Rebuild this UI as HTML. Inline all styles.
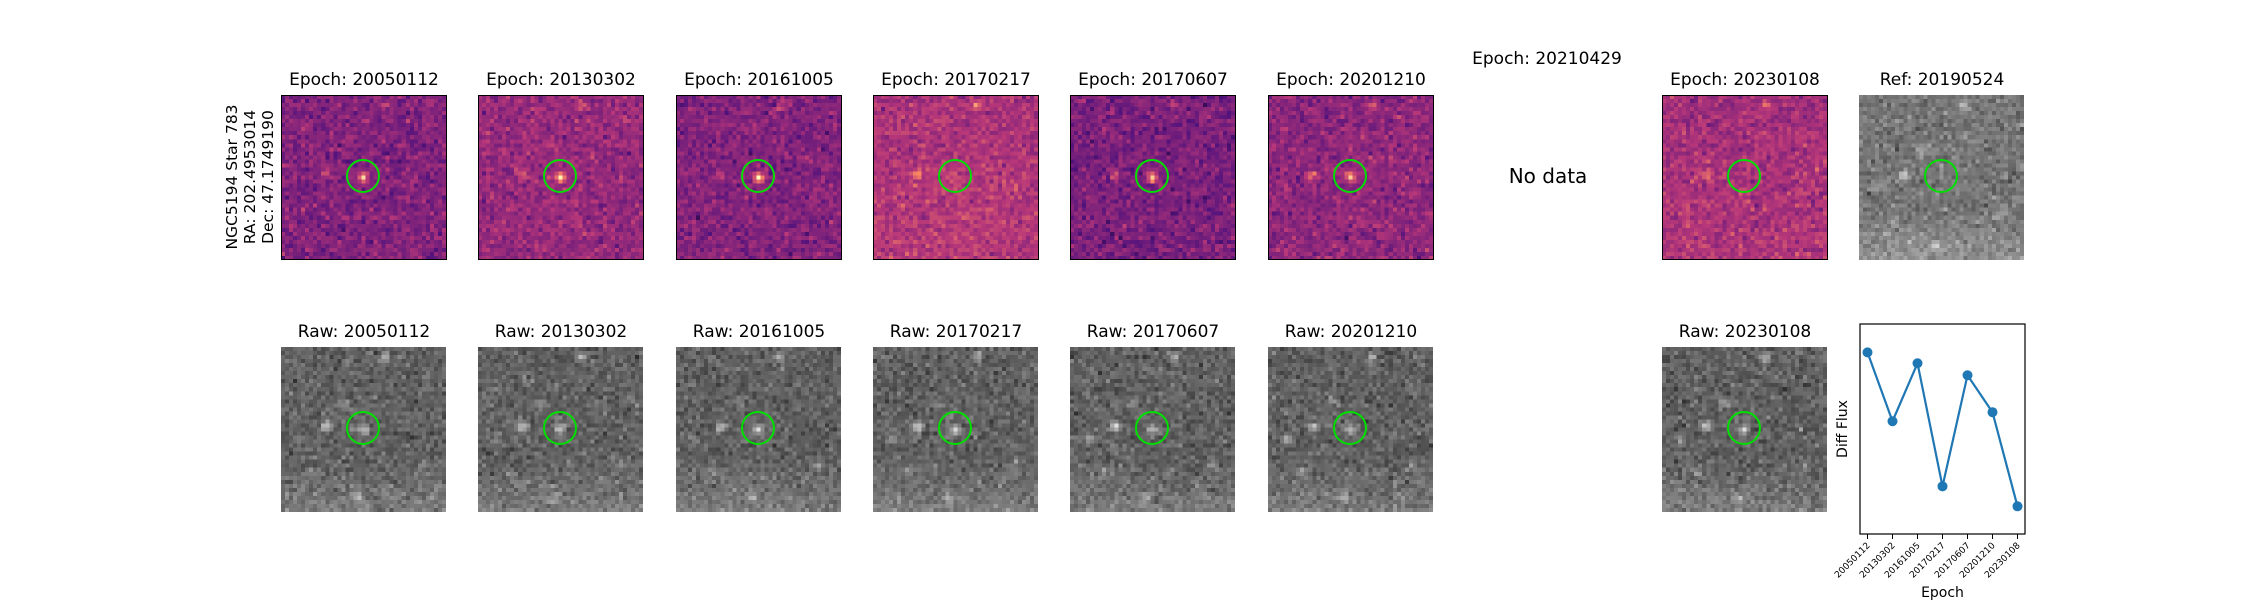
<!DOCTYPE html>
<html><head><meta charset="utf-8">
<style>
body{margin:0;width:2250px;height:600px;background:#fff;position:relative;overflow:hidden;font-family:"DejaVu Sans","Liberation Sans",sans-serif;}
.t{position:absolute;font-size:17px;color:#000;white-space:nowrap;transform:translate(-50%,-50%);}
canvas{position:absolute;image-rendering:pixelated;}
.circ{position:absolute;border:2px solid #00e000;border-radius:50%;box-sizing:border-box;}
.frame{position:absolute;border:1.5px solid #000;box-sizing:border-box;}
</style></head>
<body>
<div class="t" style="left:250px;top:177px;transform:translate(-50%,-50%) rotate(-90deg);font-size:15.5px;line-height:18px;text-align:center">NGC5194 Star 783<br>RA: 202.4953014<br>Dec: 47.1749190</div>
<div class="t" style="left:1547px;top:59px">Epoch: 20210429</div>
<div class="t" style="left:1548px;top:176px;font-size:20px">No data</div>
<svg id="lc" width="2250" height="600" style="position:absolute;left:0;top:0"></svg>
<script>
const epochs=["20050112","20130302","20161005","20170217","20170607","20201210","20230108"];
const flux=[86.5,53.7,81.3,22.7,75.6,58.0,13.2];
const panelEpochs=["20050112","20130302","20161005","20170217","20170607","20201210",null,"20230108"];
const diffLevel=[0.37,0.42,0.37,0.47,0.35,0.40,null,0.45];
const starAmp=[0.6,0.5,0.6,0.12,0.6,0.45,null,0.0];
const refEpoch="20190524";

function rng(seed){let s=seed>>>0;return()=>{s=(s*1664525+1013904223)>>>0;return s/4294967296;};}
function gauss(r){return Math.sqrt(-2*Math.log(r()+1e-9))*Math.cos(2*Math.PI*r());}
const magma=[[0,0,0,4],[0.25,81,18,124],[0.5,183,55,121],[0.75,252,137,97],[1,252,253,191]];
function cmap(t){t=Math.max(0,Math.min(1,t));for(let i=1;i<magma.length;i++){if(t<=magma[i][0]){const a=magma[i-1],b=magma[i];const f=(t-a[0])/(b[0]-a[0]);return [a[1]+f*(b[1]-a[1]),a[2]+f*(b[2]-a[2]),a[3]+f*(b[3]-a[3])];}}return [252,253,191];}
const N=41;
const srcs=[[0.26,0.47,0.5],[0.62,0.05,0.4],[0.37,0.33,0.3],[0.1,0.55,0.25],[0.45,0.9,0.3],[0.85,0.7,0.25],[0.2,0.75,0.2]];
function drawPanel(x,y,kind,idx,name){
  const c=document.createElement('canvas');c.width=N;c.height=N;
  c.style.left=x+'px';c.style.top=y+'px';c.style.width='165px';c.style.height='165px';
  
  
  const ctx=c.getContext('2d');const im=ctx.createImageData(N,N);const r=rng(idx*977+13);
  for(let j=0;j<N;j++)for(let i=0;i<N;i++){
    let v;
    if(kind==='diff'){
      v=diffLevel[idx]+0.055*gauss(r);
      const d=Math.hypot(i-20,j-20);v+=starAmp[idx]*Math.exp(-d*d/1.5);
      if(idx===3||idx===7){v+=0.04*(j/N);}
      srcs.slice(0,2).forEach(s=>{const dd=Math.hypot(i-s[0]*N,j-s[1]*N);v+=s[2]*0.6*Math.exp(-dd*dd/1.2)*(idx%2?1:0.8);});
      const col=cmap(v);const k=(j*N+i)*4;im.data[k]=col[0];im.data[k+1]=col[1];im.data[k+2]=col[2];im.data[k+3]=255;
    }else{
      v=0.38+0.06*gauss(r)+0.12*Math.max(0,(j-28)/13);
      const d=Math.hypot(i-20,j-20);v+=(kind==='ref'?0.1:0.4)*Math.exp(-d*d/1.5);
      srcs.forEach(s=>{const dd=Math.hypot(i-s[0]*N,j-s[1]*N);v+=s[2]*0.8*Math.exp(-dd*dd/1.5);});
      if(kind==='ref')v+=0.08;
      const g=Math.max(0,Math.min(255,v*255));const k=(j*N+i)*4;im.data[k]=g;im.data[k+1]=g;im.data[k+2]=g;im.data[k+3]=255;
    }
  }
  ctx.putImageData(im,0,0);document.body.appendChild(c);
  const ci=document.createElement('div');ci.className='circ';
  ci.style.left=(x+82-17)+'px';ci.style.top=(y+81-17)+'px';ci.style.width='34px';ci.style.height='34px';
  
  
  document.body.appendChild(ci);
  if(kind==='diff'){const f=document.createElement('div');f.className='frame';f.style.left=x+'px';f.style.top=y+'px';f.style.width='166px';f.style.height='165px';
    
    
    document.body.appendChild(f);}
}
function title(x,y,txt,name){const t=document.createElement('div');t.className='t';t.style.left=x+'px';t.style.top=y+'px';t.textContent=txt;
  
  
  document.body.appendChild(t);}
panelEpochs.forEach((e,i)=>{
  if(!e)return;
  const x=Math.round(281+i*197.3);
  title(x+83,80,'Epoch: '+e,'diff-title-'+e);
  drawPanel(x,95,'diff',i,'diff-image-'+e);
  title(x+83,332,'Raw: '+e,'raw-title-'+e);
  drawPanel(x,347,'raw',i+20,'raw-image-'+e);
});
const rx=Math.round(281+8*197.3);
title(rx+83,80,'Ref: '+refEpoch,'ref-title');
drawPanel(rx,95,'ref',40,'ref-image');

const svg=document.getElementById('lc');const NS='http://www.w3.org/2000/svg';
const ax={l:1860,r:2025,t:324,b:534};const yMin=0,yMax=100;
const xs=i=>ax.l+(i+0.3)/(epochs.length-1+0.6)*(ax.r-ax.l);
const ys=v=>ax.b-(v-yMin)/(yMax-yMin)*(ax.b-ax.t);
function el(tag,attrs,name){const e=document.createElementNS(NS,tag);for(const k in attrs)e.setAttribute(k,attrs[k]);
  
  
  svg.appendChild(e);return e;}
el('rect',{x:ax.l,y:ax.t,width:ax.r-ax.l,height:ax.b-ax.t,fill:'none',stroke:'#000','stroke-width':1.2},'plot-frame');
el('polyline',{points:flux.map((v,i)=>xs(i)+','+ys(v)).join(' '),fill:'none',stroke:'#1f77b4','stroke-width':2.2},'flux-line');
flux.forEach((v,i)=>{el('circle',{cx:xs(i),cy:ys(v),r:5,fill:'#1f77b4'},'flux-point-'+epochs[i]);});
epochs.forEach((e,i)=>{
  el('line',{x1:xs(i),x2:xs(i),y1:ax.b,y2:ax.b+5,stroke:'#000','stroke-width':1},'x-tick');
  const t=el('text',{x:xs(i)+3,y:ax.b+12,'font-size':9,'text-anchor':'end','font-family':'DejaVu Sans, Liberation Sans, sans-serif',transform:'rotate(-45 '+(xs(i)+3)+' '+(ax.b+12)+')'},'x-tick-label');
  t.textContent=e;
});
const xl=el('text',{x:(ax.l+ax.r)/2,y:597,'font-size':14,'text-anchor':'middle','font-family':'DejaVu Sans, Liberation Sans, sans-serif'},'x-axis-title');xl.textContent='Epoch';
const yl=el('text',{x:1847,y:429,'font-size':14,'text-anchor':'middle','font-family':'DejaVu Sans, Liberation Sans, sans-serif',transform:'rotate(-90 1847 429)'},'y-axis-title');yl.textContent='Diff Flux';
</script>
</body></html>
